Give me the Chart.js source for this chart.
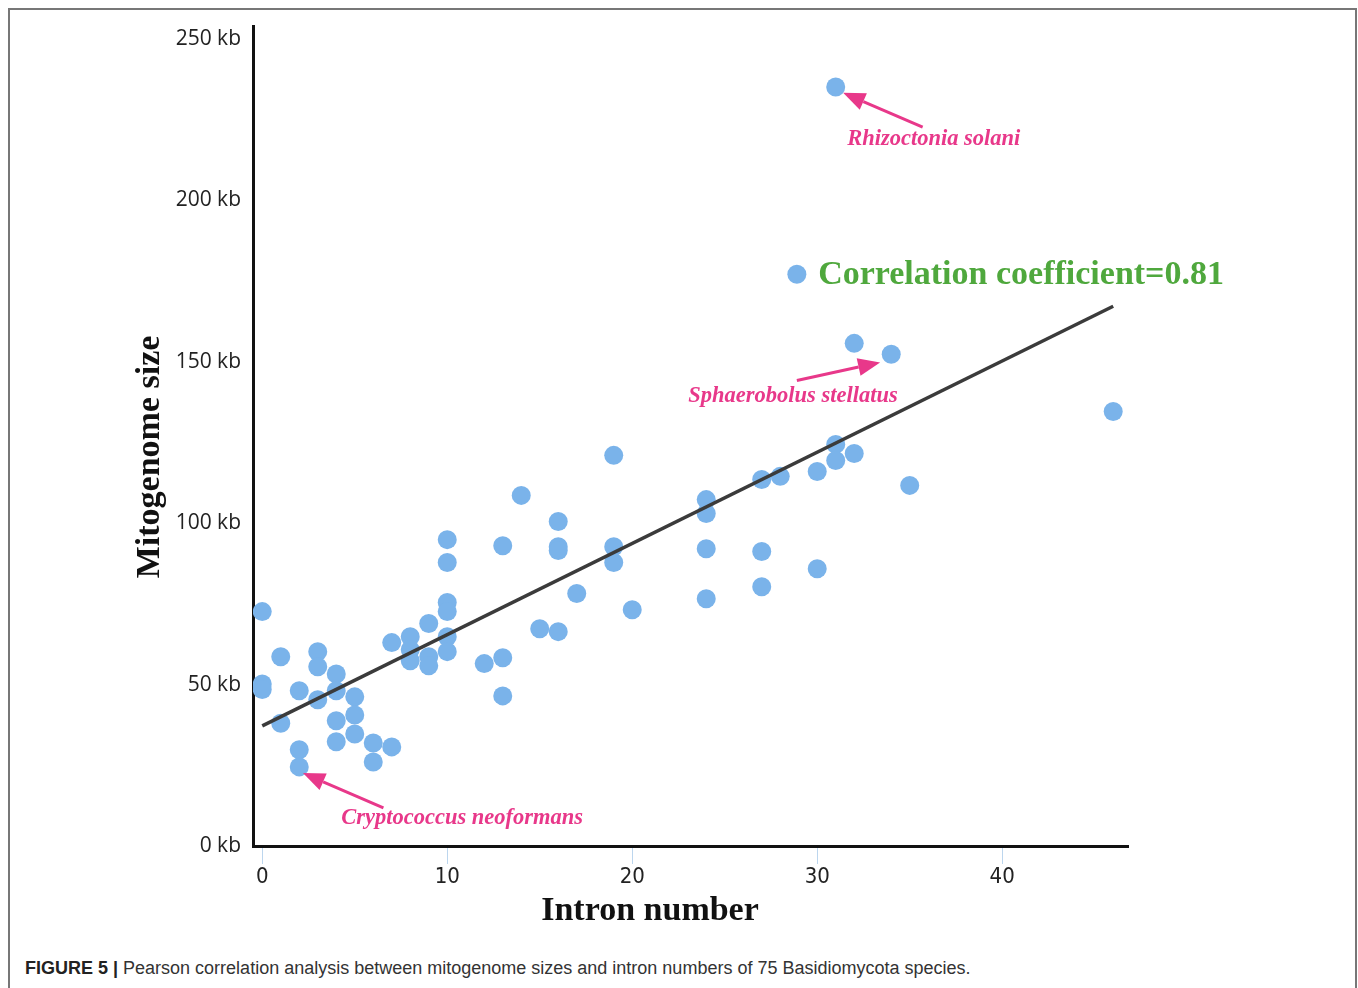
<!DOCTYPE html>
<html>
<head>
<meta charset="utf-8">
<script src="https://cdn.jsdelivr.net/npm/chart.js@4"></script>
<style>
  body { margin: 0; background: #fff; overflow: hidden; width: 1358px; height: 988px; position: relative; }
  #frame { position: absolute; left: 8px; top: 8px; width: 1345px; height: 1000px; border: 2px solid #777; border-bottom: none; }
  #plot { position: absolute; left: 0; top: 0; }
  #caption { position: absolute; left: 25px; top: 958px; font: 18px "Liberation Sans", Arial, sans-serif; color: #333; white-space: nowrap; }
  #caption b { color: #222; }
</style>
</head>
<body>
<div id="frame"></div>
<canvas id="plot" width="1358" height="940"></canvas>
<div id="caption"><b>FIGURE 5 |</b> Pearson correlation analysis between mitogenome sizes and intron numbers of 75 Basidiomycota species.</div>
<script>
// intron number per species
const introns = [0, 0, 0, 1, 1, 2, 2, 2, 3, 3, 3, 4, 4, 4, 4, 5, 5, 5, 6, 6, 7, 7, 8, 8, 8, 9, 9, 9,
  10, 10, 10, 10, 10, 10, 12, 13, 13, 13, 14, 15, 16, 16, 16, 16, 17, 19, 19, 19, 20,
  24, 24, 24, 24, 27, 27, 27, 28, 30, 30, 31, 31, 31, 32, 32, 34, 35, 46];
// mitogenome size (kb)
const sizes = [72.6, 50.2, 48.5, 58.6, 38.0, 48.1, 29.8, 24.5, 60.2, 55.5, 45.3, 53.3, 48.1, 38.8, 32.3,
  46.2, 40.6, 34.7, 31.9, 26.0, 63.0, 30.7, 64.8, 60.8, 57.4, 68.9, 58.6, 55.8,
  94.9, 87.8, 75.4, 72.6, 64.8, 60.2, 56.5, 93.0, 58.3, 46.5, 108.6, 67.3, 100.5, 92.7, 91.5, 66.4, 78.2,
  121.0, 92.7, 87.8, 73.2, 107.3, 103.0, 92.1, 76.6, 113.5, 91.2, 80.3, 114.5, 116.0, 85.9,
  235.1, 124.4, 119.4, 155.7, 121.6, 152.3, 111.7, 134.6];
// fitted trend line end points
const fitX = [0, 46];
const fitY = [37.2, 167.2];
// legend marker next to the coefficient
const legendX = [28.9];
const legendY = [177.1];

const xTicks = [0, 10, 20, 30, 40];
const yTicks = [0, 50, 100, 150, 200, 250];

const pink = '#e8388a';
const blue = '#7ab3ea';

function arrow(ctx, x1, y1, x2, y2) {
    const ang = Math.atan2(y2 - y1, x2 - x1);
    const len = 22, half = 9;
    const bx = x2 - len * Math.cos(ang), by = y2 - len * Math.sin(ang);
    ctx.strokeStyle = pink;
    ctx.fillStyle = pink;
    ctx.lineWidth = 3;
    ctx.beginPath();
    ctx.moveTo(x1, y1);
    ctx.lineTo(bx, by);
    ctx.stroke();
    ctx.beginPath();
    ctx.moveTo(x2, y2);
    ctx.lineTo(bx + half * Math.sin(ang), by - half * Math.cos(ang));
    ctx.lineTo(bx - half * Math.sin(ang), by + half * Math.cos(ang));
    ctx.closePath();
    ctx.fill();
}

// annotations, axis titles and the coefficient text
const notes = {
    id: 'notes',
    afterDatasetsDraw(chart) {
        const ctx = chart.ctx;
        const xs = chart.scales.x, ys = chart.scales.y;
        const px = v => xs.getPixelForValue(v);
        const py = v => ys.getPixelForValue(v);
        ctx.save();

        arrow(ctx, px(35.7), py(222.7), px(31.4), py(233.3));
        arrow(ctx, px(28.9), py(144.2), px(33.4), py(149.8));
        arrow(ctx, px(6.55), py(11.8), px(2.2), py(22.6));

        ctx.fillStyle = pink;
        ctx.font = 'italic bold 22.5px "Liberation Serif", "Times New Roman", serif';
        ctx.textAlign = 'left';
        ctx.textBaseline = 'alphabetic';
        ctx.fillText('Rhizoctonia solani', px(31.62), py(217.1));
        ctx.fillText('Sphaerobolus stellatus', px(23.03), py(137.4));
        ctx.fillText('Cryptococcus neoformans', px(4.27), py(6.8));

        ctx.fillStyle = '#4fa83d';
        ctx.font = 'bold 34px "Liberation Serif", "Times New Roman", serif';
        ctx.textBaseline = 'middle';
        ctx.fillText('Correlation coefficient=0.81', px(30.05), py(177.1) + 1);

        ctx.fillStyle = '#111';
        ctx.font = 'bold 34px "Liberation Serif", "Times New Roman", serif';
        ctx.textAlign = 'center';
        ctx.fillText('Intron number', 650, 911);
        ctx.translate(150, 457);
        ctx.rotate(-Math.PI / 2);
        ctx.fillText('Mitogenome size', 0, 0);
        ctx.restore();
    }
};

const ctx = document.getElementById('plot').getContext('2d');
new Chart(ctx, {
    data: {
        datasets: [
            {
                type: 'line',
                data: fitX.map((x, i) => ({ x: x, y: fitY[i] })),
                borderColor: '#3b3b3b',
                borderWidth: 3.5,
                pointRadius: 0,
                fill: false,
                order: 0
            },
            {
                type: 'scatter',
                data: introns.map((x, i) => ({ x: x, y: sizes[i] })),
                backgroundColor: blue,
                borderWidth: 0,
                pointRadius: 9.5,
                order: 1
            },
            {
                type: 'scatter',
                data: legendX.map((x, i) => ({ x: x, y: legendY[i] })),
                backgroundColor: blue,
                borderWidth: 0,
                pointRadius: 9.5,
                order: 1
            }
        ]
    },
    options: {
        responsive: false,
        animation: false,
        devicePixelRatio: 1,
        layout: { padding: { left: 120, top: 26, right: 230, bottom: 10 } },
        plugins: { legend: { display: false }, tooltip: { enabled: false } },
        scales: {
            x: {
                type: 'linear',
                min: -0.5,
                max: 46.8,
                afterBuildTicks: s => { s.ticks = xTicks.map(v => ({ value: v })); },
                afterFit: s => { s.height = 84; },
                border: { display: true, color: '#111', width: 3 },
                grid: { display: true, drawOnChartArea: false, drawTicks: true, tickLength: 18, color: '#bcd6ee', lineWidth: 1 },
                ticks: {
                    padding: 0,
                    color: '#222',
                    font: { family: '"Liberation Sans Narrow", "DejaVu Sans Condensed", sans-serif', size: 22 }
                }
            },
            y: {
                type: 'linear',
                min: 0,
                max: 254,
                afterBuildTicks: s => { s.ticks = yTicks.map(v => ({ value: v })); },
                afterFit: s => { s.width = 133; },
                border: { display: true, color: '#111', width: 3 },
                grid: { display: false, drawTicks: false },
                ticks: {
                    padding: 12,
                    color: '#222',
                    font: { family: '"Open Sans", "Noto Sans", sans-serif', size: 21 },
                    callback: v => v + ' kb'
                }
            }
        }
    },
    plugins: [notes]
});
</script>
</body>
</html>
